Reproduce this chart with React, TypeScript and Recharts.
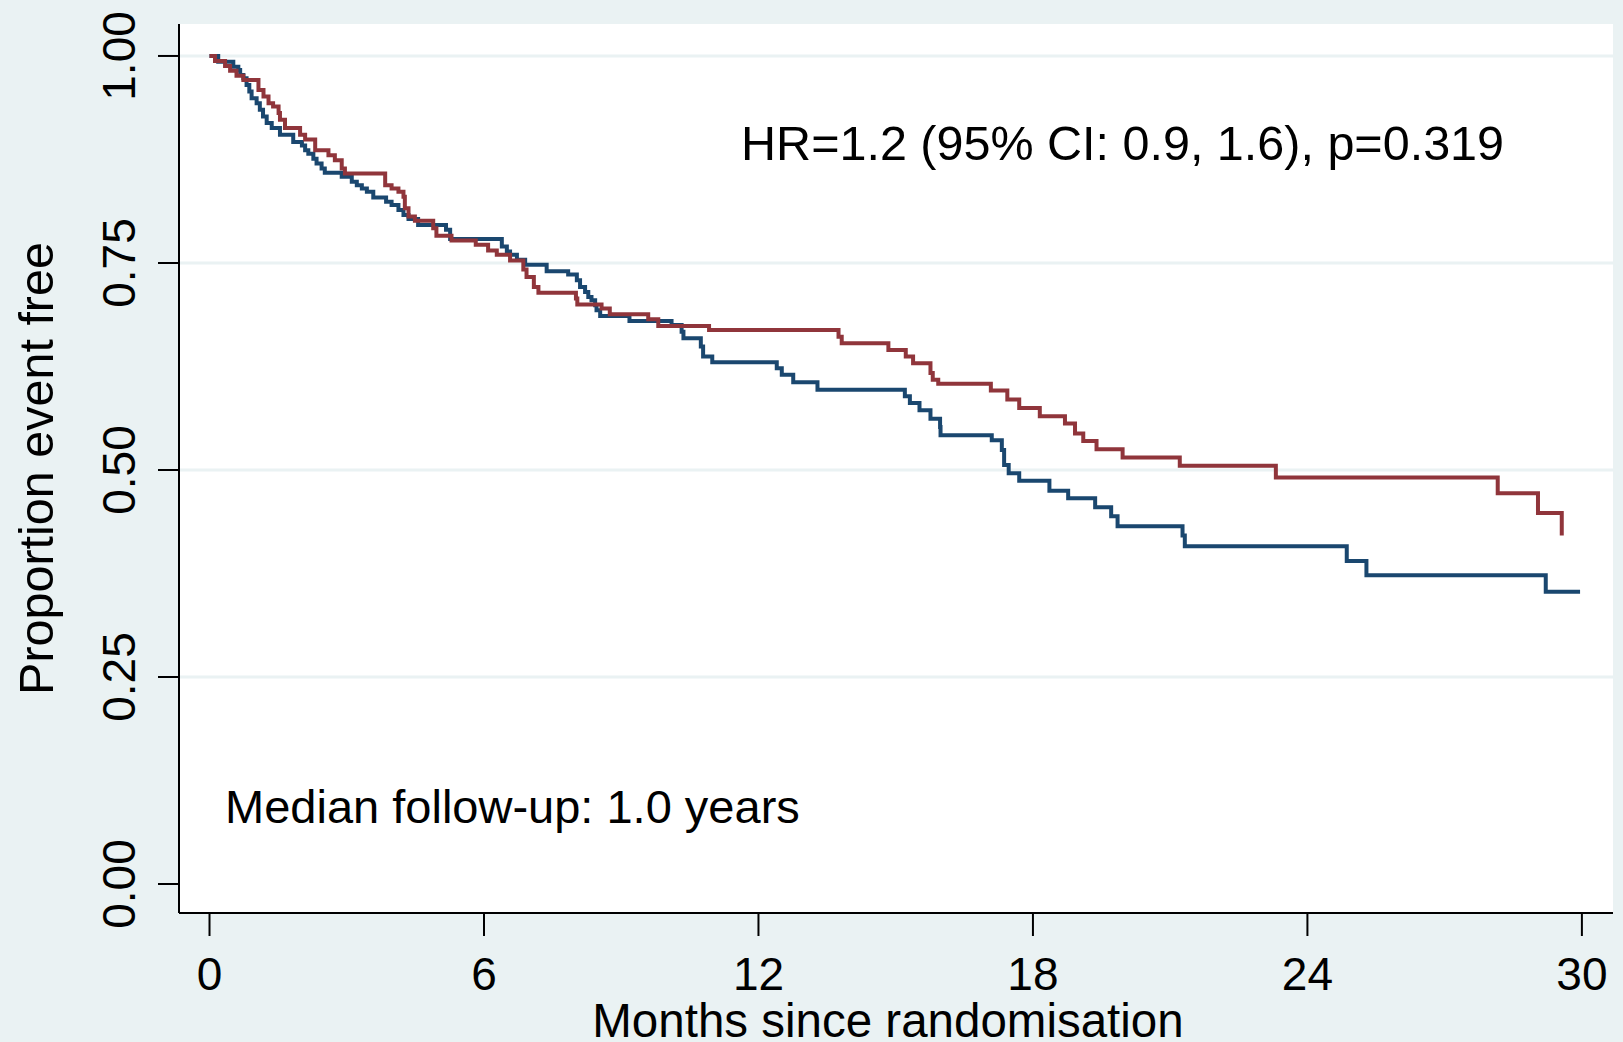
import React from "react";
import {
  LineChart,
  Line,
  XAxis,
  YAxis,
  CartesianGrid,
  ReferenceDot,
  Label,
} from "recharts";

const monthTicks = [0, 6, 12, 18, 24, 30];
const proportionTicks = [0, 0.25, 0.5, 0.75, 1];
const gridValues = [0.25, 0.5, 0.75, 1];

// navy arm: event times (months) and survival after each step
const navyTimes = [
  0, 0.19, 0.52, 0.63, 0.67, 0.74, 0.81, 0.87, 0.92, 1.03, 1.1, 1.17, 1.25,
  1.36, 1.54, 1.83, 2.02, 2.09, 2.16, 2.27, 2.34, 2.45, 2.52, 2.89, 3.11, 3.22,
  3.33, 3.44, 3.58, 3.86, 3.98, 4.13, 4.24, 4.35, 4.56, 5.17, 5.26, 6.39, 6.5,
  6.57, 6.72, 6.9, 7.37, 7.84, 8.03, 8.1, 8.21, 8.28, 8.35, 8.43, 8.46, 8.54,
  9.18, 10.1, 10.32, 10.36, 10.74, 10.79, 10.99, 12.4, 12.51, 12.76, 13.29,
  15.2, 15.31, 15.52, 15.76, 15.97, 15.98, 17.1, 17.32, 17.37, 17.47, 17.7,
  18.36, 18.77, 19.36, 19.71, 19.85, 21.27, 21.32, 24.86, 25.29, 29.21, 29.96,
];
const navySurv = [
  1.0, 0.993, 0.987, 0.983, 0.977, 0.973, 0.965, 0.957, 0.949, 0.943, 0.935,
  0.927, 0.919, 0.913, 0.905, 0.896, 0.892, 0.886, 0.882, 0.876, 0.87, 0.864,
  0.859, 0.854, 0.848, 0.844, 0.84, 0.836, 0.829, 0.824, 0.82, 0.814, 0.808,
  0.803, 0.796, 0.79, 0.779, 0.77, 0.764, 0.76, 0.754, 0.748, 0.74, 0.736,
  0.729, 0.721, 0.715, 0.709, 0.705, 0.699, 0.693, 0.686, 0.68, 0.675, 0.667,
  0.659, 0.649, 0.637, 0.63, 0.623, 0.615, 0.606, 0.597, 0.589, 0.581, 0.572,
  0.562, 0.552, 0.542, 0.536, 0.524, 0.506, 0.496, 0.487, 0.475, 0.466, 0.455,
  0.444, 0.432, 0.421, 0.408, 0.39, 0.373, 0.353, 0.353,
];

// maroon arm
const maroonTimes = [
  0, 0.12, 0.34, 0.45, 0.59, 0.74, 1.07, 1.18, 1.29, 1.39, 1.51, 1.54, 1.65,
  1.98, 2.09, 2.31, 2.6, 2.74, 2.89, 2.96, 3.84, 3.98, 4.13, 4.24, 4.27, 4.35,
  4.49, 4.89, 4.96, 5.29, 5.82, 6.09, 6.28, 6.57, 6.86, 6.93, 7.09, 7.19, 8.01,
  8.04, 8.57, 8.75, 9.59, 9.81, 10.92, 13.75, 13.82, 14.84, 15.22, 15.38,
  15.76, 15.81, 15.93, 17.08, 17.44, 17.7, 18.15, 18.7, 18.92, 19.1, 19.39,
  19.96, 21.21, 23.31, 28.16, 29.04, 29.56,
];
const maroonSurv = [
  1.0, 0.994, 0.988, 0.982, 0.976, 0.971, 0.959, 0.951, 0.943, 0.939, 0.931,
  0.923, 0.913, 0.905, 0.899, 0.886, 0.88, 0.874, 0.864, 0.858, 0.844, 0.84,
  0.836, 0.83, 0.816, 0.806, 0.801, 0.792, 0.783, 0.777, 0.772, 0.765, 0.76,
  0.753, 0.742, 0.733, 0.721, 0.714, 0.707, 0.7, 0.695, 0.688, 0.682, 0.674,
  0.669, 0.661, 0.653, 0.645, 0.637, 0.629, 0.617, 0.609, 0.604, 0.596, 0.585,
  0.575, 0.565, 0.556, 0.544, 0.535, 0.525, 0.515, 0.505, 0.491, 0.472, 0.448,
  0.421,
];

const hrText = "HR=1.2 (95% CI: 0.9, 1.6), p=0.319";
const followUpText = "Median follow-up: 1.0 years";
const xTitle = "Months since randomisation";
const yTitle = "Proportion event free";

const FONT = '"Liberation Sans", Arial, sans-serif';
const BG = "#EAF2F3";
const NAVY = "#1A476F";
const MAROON = "#90353B";

const toPoints = (times: number[], surv: number[]) =>
  times.map((t, i) => ({ t, s: surv[i] }));

const navyData = toPoints(navyTimes, navySurv);
const maroonData = toPoints(maroonTimes, maroonSurv);

function MonthTick({ x, y, payload }: any) {
  return (
    <text x={x} y={y} textAnchor="middle" fontFamily={FONT} fontSize={46} fill="#000">
      {payload.value}
    </text>
  );
}

function ProportionTick({ x, y, payload }: any) {
  return (
    <text
      x={x}
      y={y}
      textAnchor="middle"
      transform={`rotate(-90 ${x} ${y})`}
      fontFamily={FONT}
      fontSize={46}
      fill="#000"
    >
      {Number(payload.value).toFixed(2)}
    </text>
  );
}

const noteText = (label: string, size: number) => (p: any) =>
  (
    <text x={p.cx} y={p.cy} fontFamily={FONT} fontSize={size} fill="#000">
      {label}
    </text>
  );

export default function App() {
  return (
    <div style={{ position: "absolute", left: 0, top: 0, width: 1623, height: 1042, background: BG }}>
      <LineChart
        width={1623}
        height={1042}
        margin={{ top: 24, right: 10, bottom: 0, left: 0 }}
      >
        <CartesianGrid
          vertical={false}
          horizontalValues={gridValues}
          fill="#ffffff"
          stroke={BG}
          strokeWidth={3}
        />
        <XAxis
          type="number"
          dataKey="t"
          domain={[-0.667, 30.68]}
          allowDataOverflow
          ticks={monthTicks}
          interval={0}
          height={129}
          stroke="#000"
          strokeWidth={2}
          tickSize={23}
          tickMargin={54}
          tick={<MonthTick />}
        >
          <Label
            content={(p: any) => (
              <text
                x={p.viewBox.x + p.viewBox.width / 2 - 8}
                y={p.viewBox.y + 124}
                textAnchor="middle"
                fontFamily={FONT}
                fontSize={47.5}
                fill="#000"
              >
                {xTitle}
              </text>
            )}
          />
        </XAxis>
        <YAxis
          type="number"
          domain={[-0.035, 1.0386]}
          allowDataOverflow
          ticks={proportionTicks}
          interval={0}
          width={179}
          stroke="#000"
          strokeWidth={2}
          tickSize={21}
          tickMargin={23}
          tick={<ProportionTick />}
        >
          <Label
            content={(p: any) => {
              const cx = p.viewBox.x + 53;
              const cy = p.viewBox.y + p.viewBox.height / 2;
              return (
                <text
                  x={cx}
                  y={cy}
                  textAnchor="middle"
                  transform={`rotate(-90 ${cx} ${cy})`}
                  fontFamily={FONT}
                  fontSize={48.5}
                  fill="#000"
                >
                  {yTitle}
                </text>
              );
            }}
          />
        </YAxis>
        <Line
          data={navyData}
          dataKey="s"
          type="stepAfter"
          stroke={NAVY}
          strokeWidth={4}
          dot={false}
          activeDot={false}
          isAnimationActive={false}
        />
        <Line
          data={maroonData}
          dataKey="s"
          type="stepAfter"
          stroke={MAROON}
          strokeWidth={4}
          dot={false}
          activeDot={false}
          isAnimationActive={false}
        />
        <ReferenceDot x={11.62} y={0.874} r={0} shape={noteText(hrText, 48.5)} />
        <ReferenceDot x={0.34} y={0.074} r={0} shape={noteText(followUpText, 47)} />
      </LineChart>
    </div>
  );
}
